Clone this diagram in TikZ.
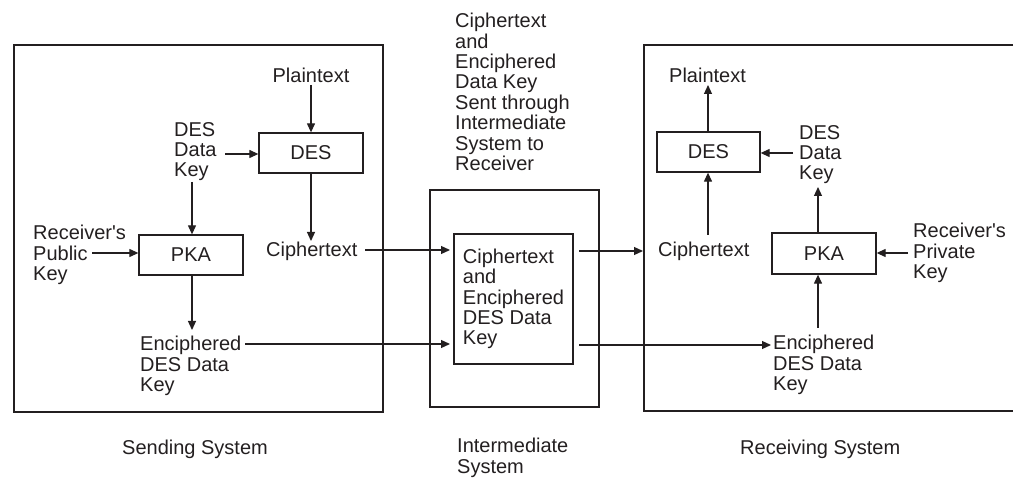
\documentclass[tikz,border=0pt]{standalone}
\usepackage{fontspec}
\setmainfont{Liberation Sans}
\usetikzlibrary{arrows.meta,calc}
\definecolor{ink}{HTML}{231F20}
\begin{document}
\begin{tikzpicture}[x=1pt,y=-1pt,
  every node/.style={text=ink,font=\fontsize{20}{20.4}\selectfont},
  lbl/.style={anchor=north west,inner sep=0pt,align=left},
  blk/.style={draw=ink,line width=1.3pt,inner sep=0pt,minimum width=104pt,minimum height=40pt},
  frame/.style={draw=ink,line width=1.3pt},
  arr/.style={draw=ink,line width=1.2pt,-{Triangle[length=9pt,width=8pt]}},
  ln/.style={draw=ink,line width=1.2pt}]
\useasboundingbox (0,0) rectangle (1015,478);
% frames
\draw[frame] (14,45) rectangle (383,412);
\draw[frame] (430,190) rectangle (599,407);
\draw[frame] (1013,45) -- (644,45) -- (644,411) -- (1013,411);
% sending system
\node[blk] (desL) at (311,153) {DES};
\node[blk] (pkaL) at (191,255) {PKA};
\node[lbl,anchor=north] (ptL) at (311,68) {Plaintext};
\node[lbl] (ddkL) at (174,122) {DES\\Data\\Key};
\node[lbl] (rpk) at (33,225) {Receiver\textquotesingle s\\Public\\Key};
\node[lbl] (ctL) at (266,242) {Ciphertext};
\node[lbl] (edkL) at (140,336) {Enciphered\\DES Data\\Key};
% intermediate
\node[draw=ink,line width=1.3pt,inner sep=0pt,minimum width=119pt,minimum height=130pt,align=left] (inner) at (513.5,299) {Ciphertext\\and\\Enciphered\\DES Data\\Key};
\node[lbl] (top) at (455,13) {Ciphertext\\and\\Enciphered\\Data Key\\Sent through\\Intermediate\\System to\\Receiver};
% receiving system
\node[blk,minimum width=103pt] (desR) at (708.5,152) {DES};
\node[blk,minimum height=41pt] (pkaR) at (824,253.5) {PKA};
\node[lbl] (ptR) at (669,68) {Plaintext};
\node[lbl] (ddkR) at (799,125) {DES\\Data\\Key};
\node[lbl] (ctR) at (658,242) {Ciphertext};
\node[lbl] (rpr) at (913,223) {Receiver\textquotesingle s\\Private\\Key};
\node[lbl] (edkR) at (773,335) {Enciphered\\DES Data\\Key};
% captions
\node[lbl] (cs) at (122,440) {Sending System};
\node[lbl] (ci) at (457,438) {Intermediate\\System};
\node[lbl] (cr) at (740,440) {Receiving System};
% coordinates
\coordinate (rpkout) at (92,253);
\coordinate (ddkLout) at (225,154);
\coordinate (ddkLdown) at (192,182);
\coordinate (ctLin) at (311,241);
\coordinate (ctLout) at (365,250);
\coordinate (innerInA) at (450,250);
\coordinate (edkLout) at (245,344);
\coordinate (innerInB) at (450,344);
\coordinate (edkLin) at (192,330);
\coordinate (outA) at (579,251);
\coordinate (rightIn) at (643,251);
\coordinate (outB) at (579,345);
\coordinate (edkRin) at (771,345);
\coordinate (ptRin) at (708,85);
\coordinate (ptLout) at (311,85);
\coordinate (ddkRout) at (793,153);
\coordinate (ddkRin) at (818,187);
\coordinate (ctRout) at (708,235);
\coordinate (rprout) at (908,253);
\coordinate (edkRout) at (818,328);
% connectors sending
\draw[arr] (ptLout) -- (desL.north);
\draw[arr] (ddkLout) -- (desL.west |- ddkLout);
\draw[arr] (ddkLdown) -- (pkaL.north -| ddkLdown);
\draw[arr] (rpkout) -- (pkaL.west |- rpkout);
\draw[arr] (desL.south) -- (ctLin);
\draw[arr] (pkaL.south -| edkLin) -- (edkLin);
\draw[arr] (ctLout) -- (innerInA);
\draw[arr] (edkLout) -- (innerInB);
% intermediate out
\draw[arr] (outA) -- (rightIn);
\draw[arr] (outB) -- (edkRin);
% receiving
\draw[arr] (desR.north -| ptRin) -- (ptRin);
\draw[arr] (ctRout) -- (desR.south -| ctRout);
\draw[arr] (ddkRout) -- (desR.east |- ddkRout);
\draw[arr] (pkaR.north -| ddkRin) -- (ddkRin);
\draw[arr] (rprout) -- (pkaR.east |- rprout);
\draw[arr] (edkRout) -- (pkaR.south -| edkRout);
\end{tikzpicture}
\end{document}
